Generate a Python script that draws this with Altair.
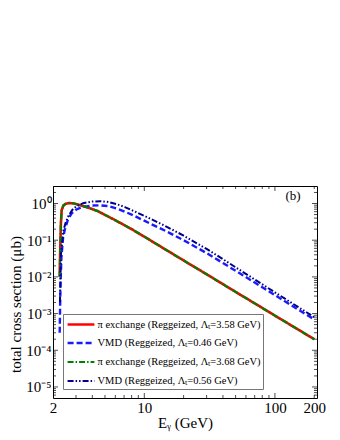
import altair as alt
import pandas as pd

# ---- data ----
names = [
    "π exchange (Reggeized, Λₜ=3.58 GeV)",
    "VMD (Reggeized, Λₜ=0.46 GeV)",
    "π exchange (Reggeized, Λₜ=3.68 GeV)",
    "VMD (Reggeized, Λₜ=0.56 GeV)",
]

E_pi = [2.25, 2.27, 2.30, 2.33, 2.40, 2.50, 2.65, 2.90, 3.30, 3.80, 4.4, 6, 8, 10,
        15, 20, 30, 50, 70, 100, 150, 200]
sig_pi_358 = [0.01, 0.05, 0.3, 0.65, 0.88, 0.98, 1.03, 1.0, 0.88, 0.75, 0.62, 0.35, 0.2,
              0.125, 0.052, 0.028, 0.0118, 0.0039, 0.0019, 0.00088, 0.00037, 0.0002]
sig_pi_368 = [0.01, 0.05, 0.3, 0.65, 0.88, 0.98, 1.03, 1.0, 0.88, 0.75, 0.62, 0.35, 0.2,
              0.125, 0.052, 0.028, 0.0118, 0.0039, 0.0019, 0.00088, 0.00037, 0.0002]

E_vmd46 = [2.25, 2.28, 2.32, 2.39, 2.46, 2.6, 2.77, 3.0, 3.3, 3.95, 4.6, 5.3, 6.2, 7.1,
           8.5, 10, 11.4, 15, 20, 30, 40, 53, 70, 100, 150, 200]
sig_vmd46 = [0.0003, 0.005, 0.035, 0.12, 0.19, 0.36, 0.53, 0.68, 0.79, 0.88, 0.89, 0.85,
             0.72, 0.6, 0.45, 0.34, 0.27, 0.17, 0.1, 0.0445, 0.0239, 0.0129, 0.007,
             0.00318, 0.0013, 0.000695]

E_vmd56 = [2.26, 2.3, 2.4, 2.5, 2.6, 2.8, 3.0, 3.4, 4.0, 4.6, 5.3, 6.2, 7.1, 8.5, 10,
           11.4, 15, 20, 30, 40, 53, 70, 100, 150, 200]
sig_vmd56 = [0.002, 0.04, 0.18, 0.3, 0.43, 0.66, 0.82, 1.02, 1.13, 1.16, 1.1, 0.95, 0.8,
             0.6, 0.46, 0.37, 0.228, 0.133, 0.058, 0.0304, 0.016, 0.0085, 0.00378,
             0.00152, 0.0008]

x_labels = [2, 10, 100, 200]
x_ticks = [2, 3, 4, 5, 6, 7, 8, 9, 10, 20, 30, 40, 50, 60, 70, 80, 90, 100, 200]
x_major = [10, 100]
y_labels = [1, 0.1, 0.01, 0.001, 0.0001, 0.00001]
panel_label = "(b)"

colors = ["#ff0000", "#1a1aff", "#008000", "#00008b"]
dashes = [[1, 0], [6, 3], [6, 2, 1.5, 2], [6, 2, 1.5, 2, 1.5, 2]]
widths = [2.6, 2.0, 1.6, 2.0]

W, H = 264, 212
FONT = "Liberation Serif"

rows = []
for n, E, S in [(names[0], E_pi, sig_pi_358), (names[1], E_vmd46, sig_vmd46),
                (names[2], E_pi, sig_pi_368), (names[3], E_vmd56, sig_vmd56)]:
    for e, s in zip(E, S):
        rows.append({"series": n, "E": e, "sigma": s})
df = pd.DataFrame(rows)

y_ticks = []
for d in range(-6, 1):
    for k in range(1, 10):
        v = k * 10.0 ** d
        if 5e-6 <= v <= 3:
            y_ticks.append({"sigma": v, "major": k == 1})
ydf = pd.DataFrame(y_ticks)
xdf = pd.DataFrame({"E": x_ticks, "major": [v in x_major for v in x_ticks]})

xscale = alt.Scale(type="log", domain=[2, 210], nice=False)
yscale = alt.Scale(type="log", domain=[5e-6, 3], nice=False)

ylab = ("datum.value > 0.5 ? '10⁰' : datum.value > 0.05 ? '10⁻¹' : "
        "datum.value > 0.005 ? '10⁻²' : datum.value > 0.0005 ? '10⁻³' : "
        "datum.value > 0.00005 ? '10⁻⁴' : '10⁻⁵'")

xaxis = alt.Axis(values=x_labels, labelExpr="format(datum.value, 'd')",
                 ticks=False, domain=False, grid=False, labelPadding=2,
                 labelOverlap=False, labelFlush=False, labelBound=False,
                 title="Eᵧ (GeV)", titlePadding=0)
yaxis = alt.Axis(values=y_labels, labelExpr=ylab, ticks=False, domain=False,
                 grid=False, labelPadding=2, labelOverlap=False,
                 labelFlush=False, title="total cross section (μb)",
                 titlePadding=2, titleY=118)

legend = alt.Legend(
    title=None, orient="none", legendX=10, legendY=128,
    fillColor="white", strokeColor="#777", padding=2,
    symbolType="M-2,0L2,0", symbolSize=180, symbolStrokeWidth=2,
    symbolOffset=7.5, labelOffset=8,
    labelFont=FONT, labelFontSize=10.5, rowPadding=5, labelLimit=300,
)

lines = alt.Chart(df).mark_line(clip=True).encode(
    x=alt.X("E:Q", scale=xscale, axis=xaxis),
    y=alt.Y("sigma:Q", scale=yscale, axis=yaxis),
    color=alt.Color("series:N", scale=alt.Scale(domain=names, range=colors), legend=legend),
    strokeDash=alt.StrokeDash("series:N", scale=alt.Scale(domain=names, range=dashes),
                              legend=legend),
    strokeWidth=alt.StrokeWidth("series:N", scale=alt.Scale(domain=names, range=widths),
                                legend=None),
)


def xticks(ypos):
    return alt.Chart(xdf).mark_tick(orient="vertical", clip=True, color="black",
                                    thickness=1).encode(
        x=alt.X("E:Q", scale=xscale, axis=xaxis),
        y=alt.value(ypos),
        size=alt.condition("datum.major", alt.value(10), alt.value(6)),
    )


def yticks(xpos):
    return alt.Chart(ydf).mark_tick(orient="horizontal", clip=True, color="black",
                                    thickness=1).encode(
        y=alt.Y("sigma:Q", scale=yscale, axis=yaxis),
        x=alt.value(xpos),
        size=alt.condition("datum.major", alt.value(10), alt.value(6)),
    )


label = alt.Chart(pd.DataFrame({"t": [panel_label]})).mark_text(
    font=FONT, fontSize=13, align="center", baseline="middle").encode(
    text="t:N", x=alt.value(W - 24), y=alt.value(10))

chart = alt.layer(lines, xticks(H), xticks(0), yticks(0), yticks(W), label).properties(
    width=W, height=H,
    padding={"top": 178, "left": 0, "right": 5, "bottom": 2},
).configure_view(stroke="black", strokeWidth=1).configure_axis(
    labelFont=FONT, labelFontSize=15, titleFont=FONT, titleFontSize=15,
    labelColor="black", titleColor="black", titleFontWeight="normal",
)

chart.save("out.html", embed_options={"renderer": "svg", "actions": False})
